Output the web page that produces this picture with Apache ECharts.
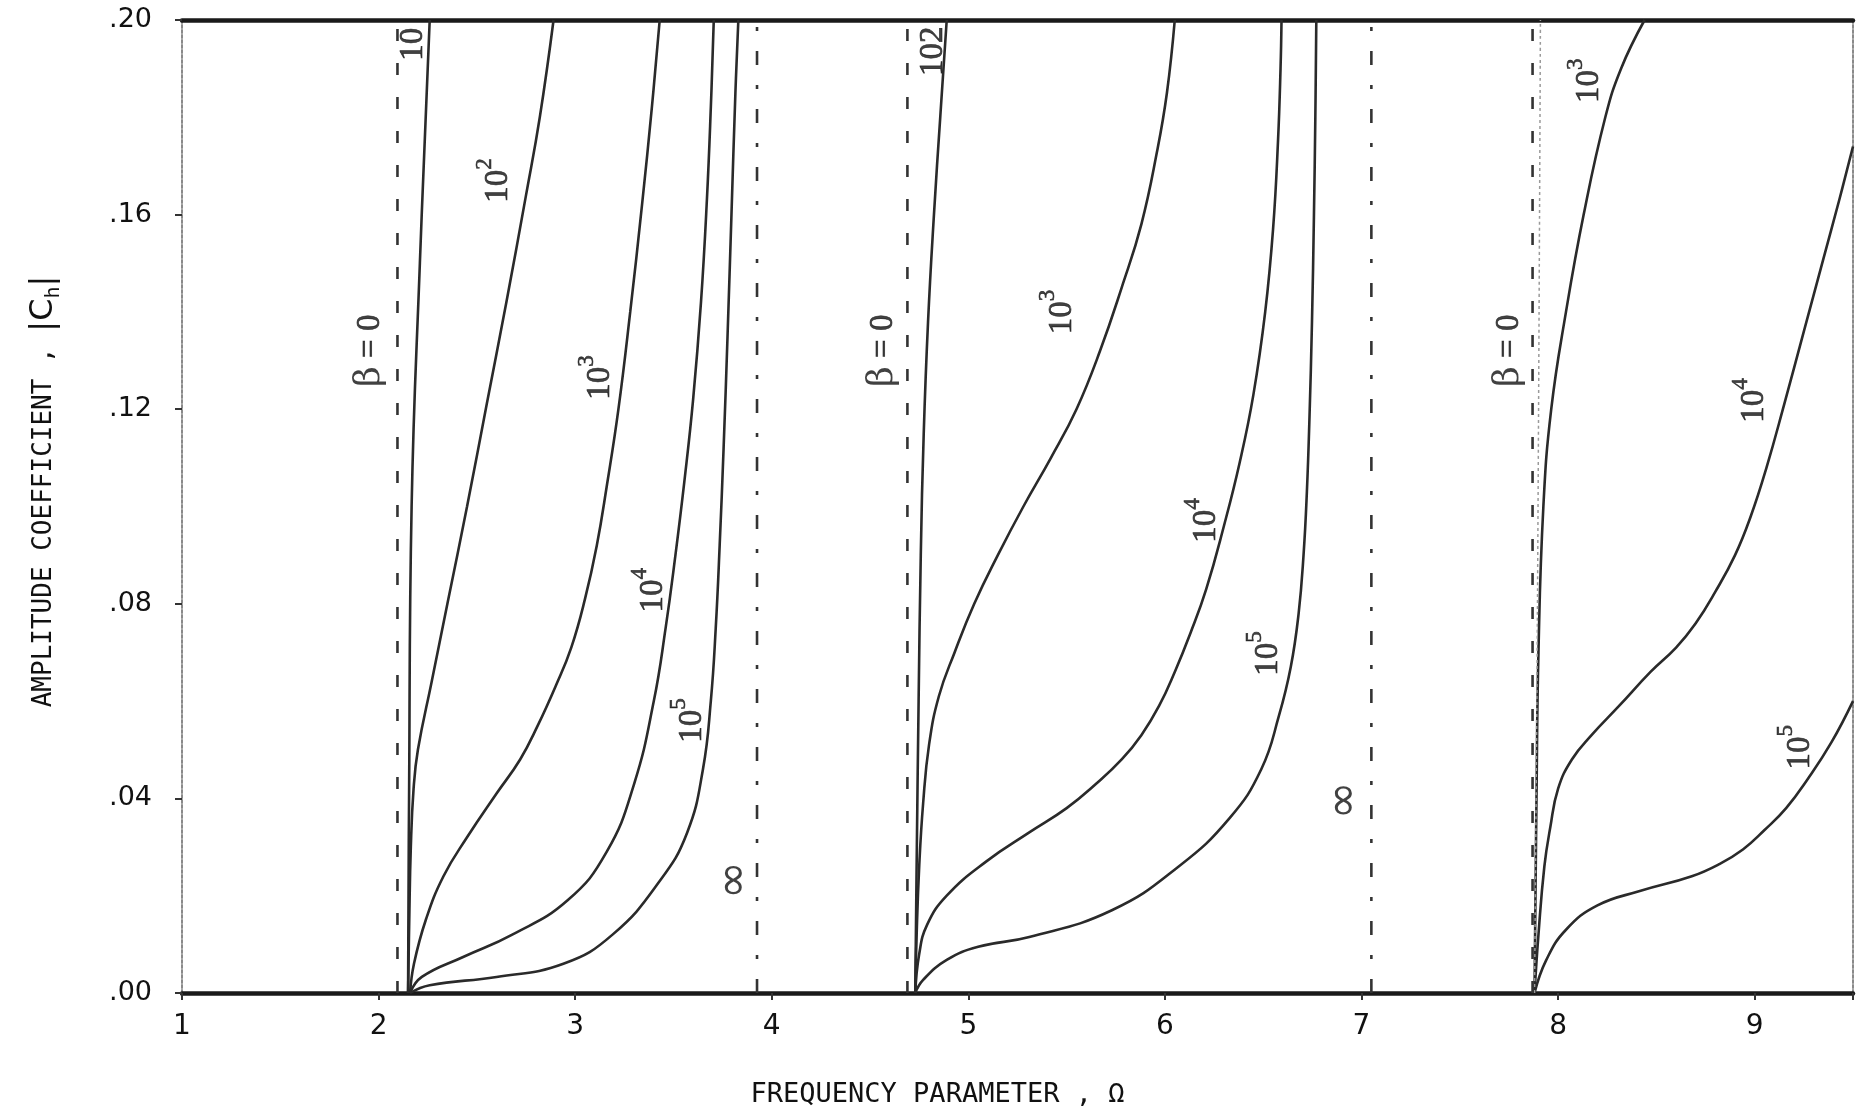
<!DOCTYPE html>
<html>
<head>
<meta charset="utf-8">
<title>Amplitude coefficient</title>
<script src="https://cdn.jsdelivr.net/npm/echarts@6.0.0/dist/echarts.min.js"></script>
<style>
  html, body { margin: 0; padding: 0; background: #fff; }
  #chart { width: 1862px; height: 1119px; }
</style>
</head>
<body>
<div id="chart"></div>
<script>
// 坐标轴范围
var xMin = 1, xMax = 9.5;
var yMin = 0, yMax = 0.2;

// beta = 0 与 beta = ∞ 的竖线位置
var betaZero = [2.096, 4.69, 7.87];
var betaInf = [3.925, 7.05];

// 第一组曲线 (Omega ~ 2.15 起)
var g1_b1e1 = [[2.15, 0], [2.155, 0.04], [2.168, 0.10], [2.21, 0.15], [2.26, 0.20]];
var g1_b1e2 = [[2.15, 0], [2.156, 0.015], [2.164, 0.03], [2.178, 0.042], [2.20, 0.050], [2.27, 0.064], [2.35, 0.080],
  [2.45, 0.100], [2.55, 0.121], [2.65, 0.142], [2.75, 0.164], [2.82, 0.180], [2.89, 0.20]];
var g1_b1e3 = [[2.16, 0], [2.18, 0.006], [2.24, 0.015], [2.33, 0.024], [2.45, 0.032], [2.60, 0.041], [2.72, 0.048],
  [2.81, 0.055], [2.90, 0.063], [2.98, 0.071], [3.05, 0.081], [3.11, 0.092], [3.16, 0.104], [3.22, 0.12],
  [3.28, 0.14], [3.34, 0.162], [3.39, 0.182], [3.43, 0.20]];
var g1_b1e4 = [[2.16, 0], [2.22, 0.0033], [2.43, 0.0074], [2.68, 0.012], [2.96, 0.019], [3.16, 0.029], [3.30, 0.043],
  [3.40, 0.060], [3.46, 0.075], [3.51, 0.090], [3.555, 0.105], [3.60, 0.122], [3.64, 0.142], [3.67, 0.163],
  [3.69, 0.182], [3.705, 0.20]];
var g1_b1e5 = [[2.16, 0], [2.26, 0.0016], [2.60, 0.0033], [2.94, 0.006], [3.19, 0.012], [3.43, 0.023], [3.57, 0.033],
  [3.65, 0.046], [3.69, 0.060], [3.715, 0.075], [3.735, 0.092], [3.755, 0.112], [3.775, 0.135], [3.795, 0.16],
  [3.815, 0.185], [3.83, 0.20]];

// 第二组曲线 (Omega ~ 4.73 起)
var g2_b1e2 = [[4.73, 0], [4.738, 0.03], [4.747, 0.06], [4.758, 0.09], [4.773, 0.115], [4.795, 0.138], [4.825, 0.16],
  [4.857, 0.18], [4.89, 0.20]];
var g2_b1e3 = [[4.73, 0], [4.737, 0.012], [4.75, 0.026], [4.77, 0.039], [4.80, 0.051], [4.85, 0.061], [4.93, 0.070],
  [5.03, 0.080], [5.15, 0.090], [5.28, 0.100], [5.42, 0.110], [5.55, 0.120], [5.67, 0.132], [5.78, 0.145],
  [5.88, 0.158], [5.96, 0.173], [6.01, 0.185], [6.05, 0.20]];
var g2_b1e4 = [[4.73, 0], [4.75, 0.008], [4.79, 0.014], [4.89, 0.020], [5.09, 0.027], [5.31, 0.033], [5.50, 0.038],
  [5.65, 0.043], [5.78, 0.048], [5.88, 0.053], [5.97, 0.059], [6.05, 0.066], [6.13, 0.074], [6.21, 0.083],
  [6.30, 0.096], [6.38, 0.109], [6.45, 0.123], [6.51, 0.140], [6.55, 0.157], [6.575, 0.175], [6.588, 0.19], [6.593, 0.20]];
var g2_b1e5 = [[4.73, 0], [4.77, 0.0027], [4.89, 0.0068], [5.05, 0.0095], [5.31, 0.0115], [5.73, 0.017], [6.07, 0.026],
  [6.33, 0.036], [6.49, 0.046], [6.58, 0.057], [6.64, 0.067], [6.68, 0.078], [6.705, 0.09], [6.722, 0.103],
  [6.735, 0.118], [6.748, 0.138], [6.758, 0.16], [6.765, 0.18], [6.77, 0.20]];

// 第三组曲线 (Omega ~ 7.88 起)
var g3_b1e2 = [[7.88, 0], [7.895, 0.08], [7.91, 0.20]];
var g3_b1e3 = [[7.88, 0], [7.89, 0.04], [7.90, 0.07], [7.925, 0.10], [7.965, 0.12], [8.04, 0.14], [8.13, 0.16],
  [8.24, 0.18], [8.32, 0.19], [8.44, 0.20]];
var g3_b1e4 = [[7.88, 0], [7.90, 0.012], [7.93, 0.026], [7.96, 0.034], [8.00, 0.042], [8.07, 0.048], [8.17, 0.053],
  [8.31, 0.059], [8.47, 0.066], [8.60, 0.071], [8.70, 0.076], [8.80, 0.0825], [8.90, 0.090], [8.98, 0.098],
  [9.06, 0.108], [9.15, 0.121], [9.25, 0.136], [9.35, 0.151], [9.43, 0.163], [9.5, 0.174]];
var g3_b1e5 = [[7.88, 0], [7.94, 0.0068], [8.04, 0.013], [8.20, 0.018], [8.42, 0.021], [8.68, 0.024], [8.82, 0.0265],
  [8.94, 0.0295], [9.05, 0.0335], [9.16, 0.038], [9.27, 0.044], [9.39, 0.0515], [9.5, 0.060]];

var curves = [g1_b1e1, g1_b1e2, g1_b1e3, g1_b1e4, g1_b1e5, g2_b1e2, g2_b1e3, g2_b1e4, g2_b1e5, g3_b1e3, g3_b1e4, g3_b1e5];
var faintCurves = [g3_b1e2];

// 曲线标注 [x, y, 文字]  (^ 后为上标)
var curveLabels = [
  [1.956, 0.132, 'beta'], [2.175, 0.195, '10'], [2.61, 0.167, '10^2'], [3.13, 0.1265, '10^3'],
  [3.40, 0.0828, '10^4'], [3.595, 0.056, '10^5'], [3.813, 0.0232, 'inf'],
  [4.565, 0.132, 'beta'], [4.82, 0.1936, '102'], [5.476, 0.140, '10^3'], [6.21, 0.0971, '10^4'],
  [6.524, 0.0698, '10^5'], [6.916, 0.0396, 'inf'],
  [7.75, 0.132, 'beta'], [8.16, 0.1875, '10^3'], [9.0, 0.1218, '10^4'], [9.23, 0.0505, '10^5']
];

(function () {
  var myChart = echarts.init(document.getElementById('chart'));
  var mono = '"DejaVu Sans Mono", "Liberation Mono", monospace';
  var sans = '"DejaVu Sans", "Liberation Sans", sans-serif';
  var serif = '"Liberation Serif", "DejaVu Serif", serif';
  var ink = '#111';
  var series = [];

  // 曲线
  curves.forEach(function (c) {
    series.push({
      type: 'line', data: c, showSymbol: false, smooth: 0.45, silent: true,
      lineStyle: { color: '#2a2a2a', width: 2.6 }
    });
  });
  faintCurves.forEach(function (c) {
    series.push({
      type: 'line', data: c, showSymbol: false, smooth: 0.45, silent: true,
      lineStyle: { color: '#9a9a9a', width: 1.5, type: [3, 3] }
    });
  });
  // beta = 0 虚线
  betaZero.forEach(function (x) {
    series.push({
      type: 'line', data: [[x, yMin], [x, yMax]], showSymbol: false, silent: true,
      lineStyle: { color: '#333', width: 2.6, type: [12, 22] }
    });
  });
  // beta = ∞ 点划线
  betaInf.forEach(function (x) {
    series.push({
      type: 'line', data: [[x, yMin], [x, yMax]], showSymbol: false, silent: true,
      lineStyle: { color: '#333', width: 2.6, type: [14, 20, 4, 20] }
    });
  });
  // 旋转的文字标注
  series.push({
    type: 'scatter', data: curveLabels, symbolSize: 0, silent: true,
    label: {
      show: true, position: 'inside', rotate: 90, color: ink,
      formatter: function (p) {
        var t = p.value[2];
        if (t === 'beta') return '{g|β}{n| = 0}';
        if (t === 'inf') return '{i|∞}';
        if (t.indexOf('^') > 0) {
          var parts = t.split('^');
          return '{n|' + parts[0] + '}{s|' + parts[1] + '}';
        }
        return '{n|' + t + '}';
      },
      rich: {
        n: { fontSize: 33, fontFamily: serif, color: ink, lineHeight: 50, textBorderColor: ink, textBorderWidth: 0.7 },
        s: { fontSize: 23, fontFamily: serif, color: ink, verticalAlign: 'top', lineHeight: 23, textBorderColor: ink, textBorderWidth: 0.6 },
        g: { fontSize: 36, fontFamily: '"DejaVu Serif", serif', color: ink, lineHeight: 50 },
        i: { fontSize: 46, fontFamily: sans, color: ink, lineHeight: 50 }
      }
    }
  });

  var option = {
    animation: false,
    backgroundColor: '#fff',
    grid: { left: 182, right: 9, top: 20, bottom: 126 },
    xAxis: [
      {
        type: 'value', min: xMin, max: xMax, interval: 1, position: 'bottom',
        name: 'FREQUENCY PARAMETER , Ω', nameLocation: 'middle', nameGap: 88,
        nameTextStyle: { fontSize: 27, fontFamily: mono, color: ink, padding: [0, 160, 0, 0] },
        axisLine: { onZero: false, lineStyle: { color: '#1a1a1a', width: 4.5 } },
        axisTick: { show: true, length: 7, lineStyle: { color: '#333', width: 2 } },
        axisLabel: {
          margin: 20, fontSize: 28, fontFamily: sans, color: ink,
          formatter: function (v) { return v % 1 === 0 ? String(v) : ''; }
        },
        splitLine: { show: false }
      },
      {
        type: 'value', min: xMin, max: xMax, position: 'top',
        axisLine: { onZero: false, lineStyle: { color: '#1a1a1a', width: 4.5 } },
        axisTick: { show: false }, axisLabel: { show: false }, splitLine: { show: false }
      }
    ],
    yAxis: [
      {
        type: 'value', min: yMin, max: yMax, interval: 0.04, position: 'left',
        name: 'AMPLITUDE COEFFICIENT , {b||C}{sub|h}{b||}', nameLocation: 'middle', nameGap: 118,
        nameTextStyle: {
          fontSize: 26, fontFamily: mono, color: ink, lineHeight: 40, padding: [0, 0, 0, 30],
          rich: {
            b: { fontSize: 32, fontFamily: sans, color: ink, lineHeight: 40 },
            sub: { fontSize: 20, fontFamily: mono, color: ink, verticalAlign: 'bottom', lineHeight: 24 }
          }
        },
        axisLine: { show: true, onZero: false, lineStyle: { color: '#8a8a8a', width: 2, type: [3, 2] } },
        axisTick: { show: true, length: 7, lineStyle: { color: '#333', width: 2 } },
        axisLabel: {
          margin: 30, fontSize: 27, fontFamily: sans, color: ink,
          formatter: function (v) { return v.toFixed(2).replace(/^0/, ''); }
        },
        splitLine: { show: false }
      },
      {
        type: 'value', min: yMin, max: yMax, position: 'right',
        axisLine: { show: true, onZero: false, lineStyle: { color: '#8a8a8a', width: 2, type: [3, 2] } },
        axisTick: { show: false }, axisLabel: { show: false }, splitLine: { show: false }
      }
    ],
    series: series
  };
  myChart.setOption(option);
})();
</script>
</body>
</html>
